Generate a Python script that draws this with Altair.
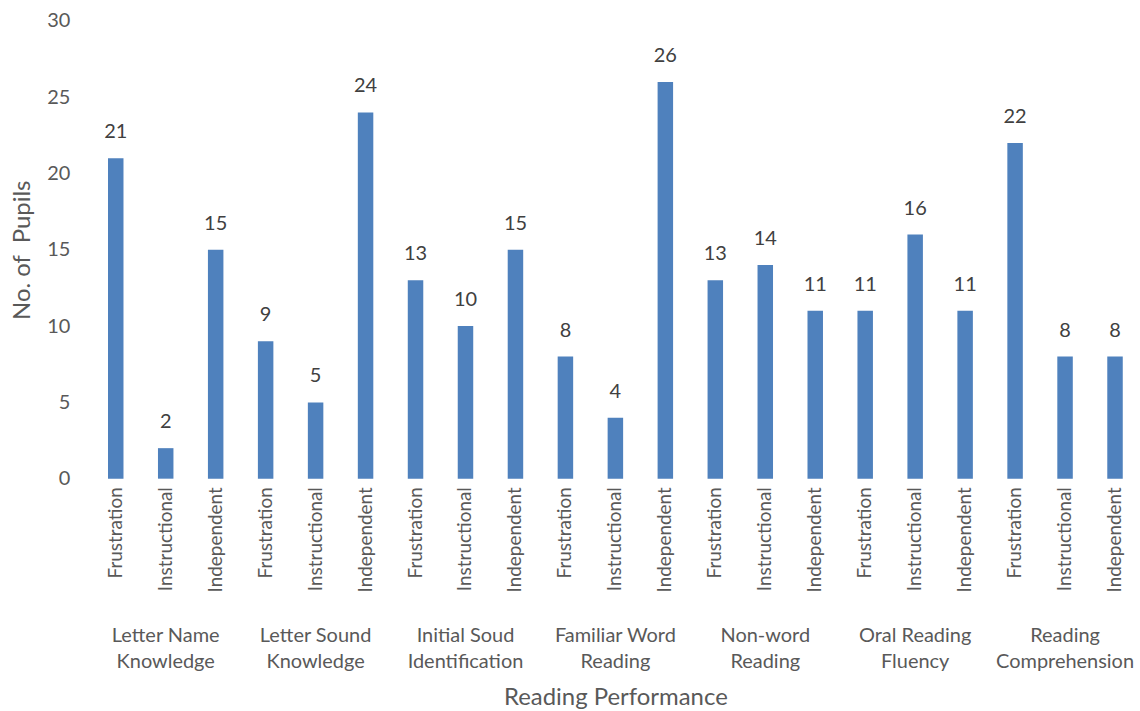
import altair as alt
import pandas as pd

groups = ["Letter Name\nKnowledge", "Letter Sound\nKnowledge", "Initial Soud\nIdentification",
          "Familiar Word\nReading", "Non-word\nReading", "Oral Reading\nFluency",
          "Reading\nComprehension"]
levels = ["Frustration", "Instructional", "Independent"]
values = [21, 2, 15, 9, 5, 24, 13, 10, 15, 8, 4, 26, 13, 14, 11, 11, 16, 11, 22, 8, 8]

rows = []
for gi, g in enumerate(groups):
    for li, lv in enumerate(levels):
        idx = gi * 3 + li
        rows.append({"idx": idx, "level": lv, "group": g, "value": values[idx]})
df = pd.DataFrame(rows)
gdf = pd.DataFrame({"idx": [gi * 3 + 1 for gi in range(len(groups))], "group": groups})

FONT = "Lato"
label_expr = "[" + ",".join(f"'{levels[i % 3]}'" for i in range(len(values))) + "][datum.value]"

x_scale = alt.Scale(paddingInner=0.69, paddingOuter=0.345, domain=list(range(len(values))))

x = alt.X("idx:O", scale=x_scale,
          axis=alt.Axis(title="Reading Performance", labelExpr=label_expr, labelAngle=-90,
                        labelFontSize=19, labelColor="#595959", labelFont=FONT, labelPadding=8,
                        domain=False, ticks=False, titleFontSize=24, titleFontWeight="normal",
                        titleColor="#595959", titleFont=FONT, titlePadding=94))
y = alt.Y("value:Q", scale=alt.Scale(domain=[0, 30]),
          axis=alt.Axis(title="No. of\u00a0 Pupils", values=[0, 5, 10, 15, 20, 25, 30], grid=False,
                        domain=False, ticks=False, labelFontSize=20, labelColor="#595959",
                        labelFont=FONT, labelPadding=21, titleFontSize=24, titleFontWeight="normal",
                        titleColor="#595959", titleFont=FONT, titlePadding=12))

bars = alt.Chart(df).mark_bar(color="#4F81BD").encode(x=x, y=y)
labels = alt.Chart(df).mark_text(baseline="bottom", dy=-16, fontSize=20, font=FONT,
                                 color="#404040").encode(x=x, y=y, text="value:Q")
glabels = alt.Chart(gdf).mark_text(baseline="top", fontSize=20, font=FONT, color="#595959",
                                   lineBreak="\n", lineHeight=26).encode(
    x=alt.X("idx:O", scale=x_scale), y=alt.value(459 + 148), text="group:N")

chart = alt.layer(bars, labels, glabels).properties(
    width=1052, height=459, padding={"left": 10, "top": 10, "right": 0, "bottom": 5}
).configure_view(stroke=None).configure_axis(labelOverlap=False)

chart.save("out.html", embed_options={"renderer": "svg", "actions": False})
